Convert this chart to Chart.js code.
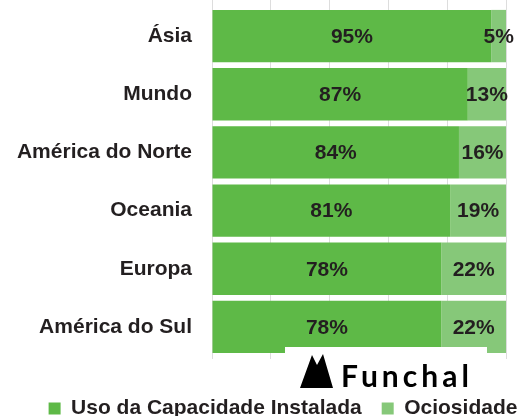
<!DOCTYPE html>
<html lang="pt">
<head>
<meta charset="utf-8">
<script src="https://cdn.jsdelivr.net/npm/chart.js@4/dist/chart.umd.min.js"></script>
<style>
  html, body { margin: 0; padding: 0; background: #fff; }
  #wrap { width: 522px; height: 416px; position: relative; }
</style>
</head>
<body>
<div id="wrap"><canvas id="grafico"></canvas></div>
<script>
// Dados do gráfico
const categorias = ['Ásia', 'Mundo', 'América do Norte', 'Oceania', 'Europa', 'América do Sul'];
const usoCapacidade = [95, 87, 84, 81, 78, 78];
const ociosidade = [5, 13, 16, 19, 22, 22];
const nomesSeries = ['Uso da Capacidade Instalada', 'Ociosidade'];

const corEscura = '#5eb947';
const corClara = '#86c879';
const corTexto = '#231f20';

Chart.defaults.font.family = '"Liberation Sans", Arial, sans-serif';

// Rótulos de percentagem no centro de cada segmento
const rotulosPlugin = {
    id: 'rotulos',
    afterDatasetsDraw(chart) {
        const ctx = chart.ctx;
        ctx.save();
        ctx.font = 'bold 21px "Liberation Sans", Arial, sans-serif';
        ctx.fillStyle = corTexto;
        ctx.textAlign = 'center';
        ctx.textBaseline = 'middle';
        chart.data.datasets.forEach((ds, i) => {
            const meta = chart.getDatasetMeta(i);
            meta.data.forEach((bar, j) => {
                const cx = (bar.x + bar.base) / 2;
                ctx.fillText(ds.data[j] + '%', cx, bar.y + 1);
            });
        });
        ctx.restore();
    }
};

// Legenda um pouco deslocada para a direita, como no original
const legendaPlugin = {
    id: 'legendaDesloc',
    afterLayout(chart) {
        chart.legend.left += 22;
        chart.legend.right += 22;
    }
};

// Logotipo Funchal sobre a parte de baixo
const logoPlugin = {
    id: 'logo',
    afterDraw(chart) {
        const ctx = chart.ctx;
        ctx.save();
        ctx.fillStyle = '#fff';
        ctx.fillRect(285, 347, 202, 44);
        ctx.fillStyle = '#000';
        ctx.beginPath();
        ctx.moveTo(300, 388);
        ctx.lineTo(312, 355);
        ctx.lineTo(317, 365);
        ctx.lineTo(323, 354);
        ctx.lineTo(333, 388);
        ctx.closePath();
        ctx.fill();
        ctx.font = 'bold 30px Lato, "DejaVu Sans", sans-serif';
        ctx.letterSpacing = '4px';
        ctx.textAlign = 'left';
        ctx.textBaseline = 'alphabetic';
        ctx.fillText('Funchal', 341, 387);
        ctx.restore();
    }
};

new Chart(document.getElementById('grafico'), {
    type: 'bar',
    data: {
        labels: categorias,
        datasets: [
            { label: nomesSeries[0], data: usoCapacidade, backgroundColor: corEscura, borderWidth: 0, xAxisID: 'x', yAxisID: 'y' },
            { label: nomesSeries[1], data: ociosidade, backgroundColor: corClara, borderWidth: 0, xAxisID: 'x', yAxisID: 'y' }
        ]
    },
    options: {
        indexAxis: 'y',
        responsive: true,
        maintainAspectRatio: false,
        animation: false,
        barPercentage: 0.9,
        categoryPercentage: 1.0,
        layout: { padding: 0 },
        scales: {
            x: {
                stacked: true,
                min: 0,
                max: 100,
                ticks: { display: false, stepSize: 20 },
                grid: { color: '#dddddd', drawTicks: true, tickLength: 3 },
                border: { display: false },
                afterFit: s => { s.height = 22; }
            },
            x2: {
                type: 'linear',
                position: 'top',
                min: 0,
                max: 100,
                ticks: { display: false, stepSize: 20 },
                grid: { color: '#dddddd', drawOnChartArea: false, drawTicks: true, tickLength: 7 },
                border: { display: false },
                afterFit: s => { s.height = 7; }
            },
            y: {
                stacked: true,
                grid: { display: false, drawTicks: false },
                border: { display: false },
                ticks: {
                    padding: 20,
                    color: corTexto,
                    font: { size: 21, weight: 'bold' }
                },
                afterFit: s => { s.width = 212; s.paddingTop = 0; s.paddingBottom = 0; }
            },
            // margem à direita
            y2: {
                type: 'category',
                position: 'right',
                labels: categorias,
                ticks: { display: false },
                grid: { display: false, drawTicks: false },
                border: { display: false },
                afterFit: s => { s.width = 16; s.paddingTop = 0; s.paddingBottom = 0; }
            }
        },
        plugins: {
            legend: {
                position: 'bottom',
                maxHeight: 38,
                labels: {
                    boxWidth: 12,
                    boxHeight: 12,
                    padding: 20,
                    color: corTexto,
                    font: { size: 21, weight: 'bold' }
                }
            },
            tooltip: { enabled: false }
        }
    },
    plugins: [rotulosPlugin, legendaPlugin, logoPlugin]
});
</script>
</body>
</html>
